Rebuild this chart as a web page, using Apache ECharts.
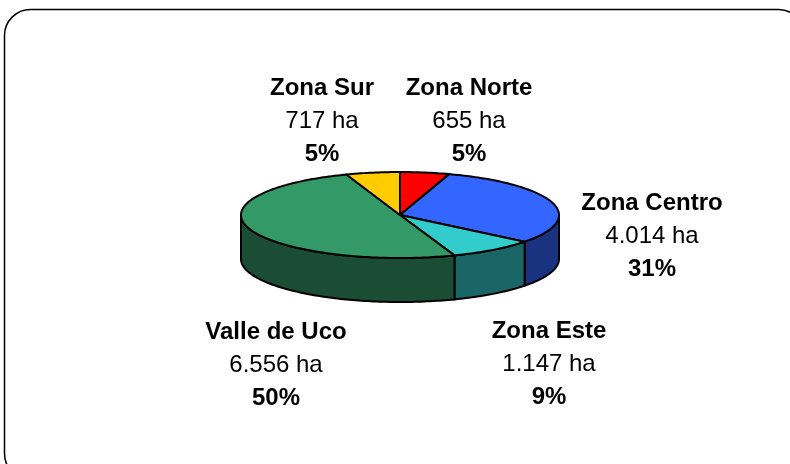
<!DOCTYPE html>
<html>
<head>
<meta charset="utf-8">
<style>
  html, body { margin: 0; padding: 0; background: #fff; }
  #chart { width: 790px; height: 464px; }
</style>
<script src="https://cdn.jsdelivr.net/npm/echarts@6/dist/echarts.min.js"></script>
</head>
<body>
<div id="chart"></div>
<script>
const zones = ["Zona Norte", "Zona Centro", "Zona Este", "Valle de Uco", "Zona Sur"];
const hectares = [655, 4014, 1147, 6556, 717];
const haLabels = ["655 ha", "4.014 ha", "1.147 ha", "6.556 ha", "717 ha"];
const percentLabels = ["5%", "31%", "9%", "50%", "5%"];
const topColors = ["#ff0000", "#3366ff", "#33cccc", "#339966", "#ffcc00"];
const sideColors = ["#800000", "#1a3380", "#1a6666", "#1a4d33", "#806600"];

// pie geometry, ellipse centre and radii in pixels
const cx = 400, cy = 215, rx = 159, ry = 43, depth = 44;
// label centres, same order as zones
const labelSpots = [[469, 121], [652, 236], [549, 364], [276, 365], [322, 121]];

const total = hectares.reduce((a, b) => a + b, 0);

// angle is measured clockwise from the top of the pie
function rim(a, drop) {
  return [cx + rx * Math.sin(a), cy - ry * Math.cos(a) + (drop || 0)];
}

function arcPoints(a0, a1, drop) {
  const pts = [];
  const n = Math.max(2, Math.ceil((a1 - a0) / 0.02));
  for (let i = 0; i <= n; i++) pts.push(rim(a0 + (a1 - a0) * i / n, drop));
  return pts;
}

function sliceAngles(idx) {
  const before = hectares.slice(0, idx).reduce((a, b) => a + b, 0);
  return [before / total * Math.PI * 2, (before + hectares[idx]) / total * Math.PI * 2];
}

const lineStyle = { stroke: "#000", lineWidth: 2, lineJoin: "round" };

function renderSlice(params, api) {
  const idx = api.value(0);
  const [a0, a1] = sliceAngles(idx);
  const children = [];
  // only the front half of the rim shows a wall
  const w0 = Math.max(a0, Math.PI / 2), w1 = Math.min(a1, Math.PI * 1.5);
  if (w1 > w0) {
    const wall = arcPoints(w0, w1, 0).concat(arcPoints(w0, w1, depth).reverse());
    children.push({
      type: "polygon",
      z2: 1,
      shape: { points: wall },
      style: Object.assign({ fill: sideColors[idx] }, lineStyle)
    });
  }
  const top = [[cx, cy]].concat(arcPoints(a0, a1, 0));
  children.push({
    type: "polygon",
    z2: 2,
    shape: { points: top },
    style: Object.assign({ fill: topColors[idx] }, lineStyle)
  });
  return { type: "group", children: children };
}

const labelElements = zones.map((name, i) => ({
  type: "text",
  x: labelSpots[i][0],
  y: labelSpots[i][1],
  style: {
    text: "{b|" + name + "}\n{n|" + haLabels[i] + "}\n{b|" + percentLabels[i] + "}",
    align: "center",
    verticalAlign: "middle",
    rich: {
      b: { fontFamily: "Liberation Sans", fontSize: 24, fontWeight: "bold", lineHeight: 33, fill: "#000" },
      n: { fontFamily: "Liberation Sans", fontSize: 24, lineHeight: 33, fill: "#000" }
    }
  }
}));

const frame = {
  type: "rect",
  shape: { x: 4.5, y: 9.5, width: 800, height: 470, r: 26 },
  style: { fill: "#fff", stroke: "#000", lineWidth: 1.5 },
  z: -1
};

const chart = echarts.init(document.getElementById("chart"), null, { renderer: "canvas" });
chart.setOption({
  animation: false,
  backgroundColor: "#fff",
  graphic: [frame].concat(labelElements),
  series: [{
    type: "custom",
    coordinateSystem: "none",
    silent: true,
    renderItem: renderSlice,
    data: hectares.map((v, i) => [i, v])
  }]
});
</script>
</body>
</html>
